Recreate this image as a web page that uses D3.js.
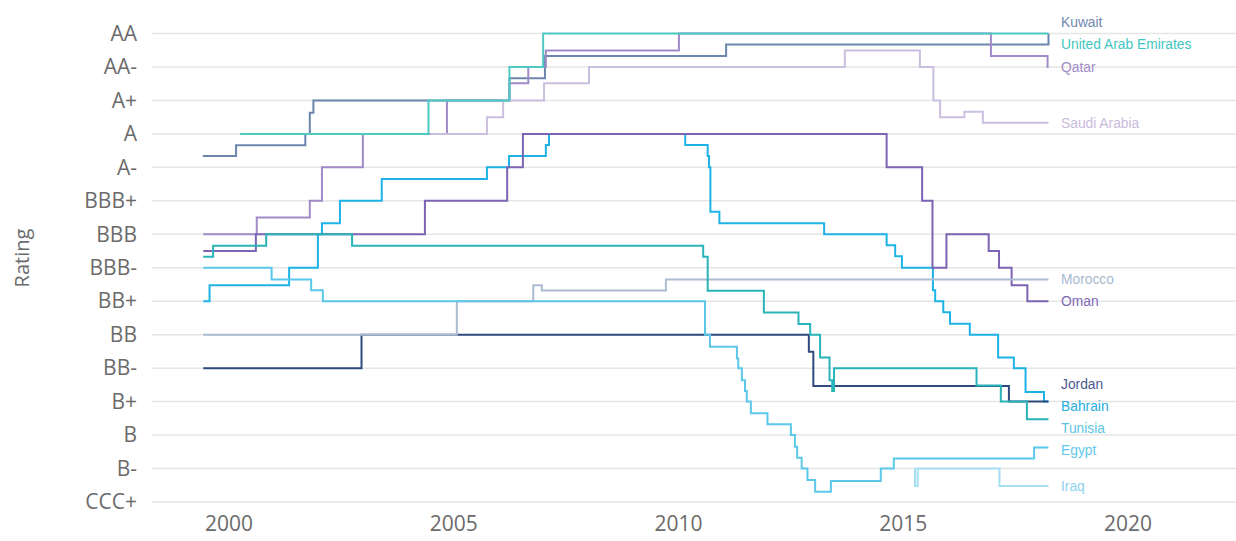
<!DOCTYPE html>
<html>
<head>
<meta charset="utf-8">
<script src="https://cdn.jsdelivr.net/npm/d3@7"></script>
<style>
  html, body { margin: 0; padding: 0; background: #ffffff; }
  svg { display: block; }
</style>
</head>
<body>
<div id="chart"></div>
<script>
// ---------- DATA ----------
// rating scale: score 0 = CCC+ ... 14 = AA
const ratingLabels = ["CCC+", "B-", "B", "B+", "BB-", "BB", "BB+", "BBB-", "BBB", "BBB+", "A-", "A", "A+", "AA-", "AA"];
const yearTicks = [2000, 2005, 2010, 2015, 2020];

// [decimal year, average rating score]
const kuwait = [[1999.43, 10.34], [2000.17, 10.66], [2001.71, 11], [2001.81, 11.63], [2001.89, 12], [2006.25, 12.66], [2007.04, 13.33], [2011.07, 13.67], [2018.24, 14]];
const uae = [[2000.26, 11], [2004.45, 12], [2006.25, 13], [2007.0, 14], [2018.24, 14]];
const qatar = [[1999.44, 8], [2000.63, 8.5], [2001.81, 9], [2002.08, 10], [2002.99, 11], [2004.86, 12], [2006.25, 12.51], [2006.67, 13], [2007.06, 13.49], [2010.02, 14], [2016.96, 13.33], [2018.22, 13], [2018.24, 13]];
const saudiArabia = [[2004.49, 11], [2005.75, 11.5], [2006.11, 12], [2007.02, 12.51], [2008.02, 13], [2013.71, 13.49], [2015.38, 13], [2015.68, 12], [2015.83, 11.5], [2016.37, 11.66], [2016.78, 11.33], [2018.24, 11.33]];
const morocco = [[1999.44, 5], [2005.08, 6], [2006.78, 6.48], [2006.97, 6.32], [2009.73, 6.65], [2018.24, 6.65]];
const oman = [[1999.44, 7.5], [2000.61, 8], [2004.37, 9], [2006.2, 10], [2006.55, 11], [2014.64, 10], [2015.43, 9], [2015.66, 7], [2015.97, 8], [2016.91, 7.5], [2017.14, 7], [2017.42, 6.48], [2017.77, 6], [2018.24, 6]];
const jordan = [[1999.44, 4], [2002.96, 5], [2012.91, 4.49], [2013.01, 3.47], [2017.36, 3], [2018.24, 3]];
const bahrain = [[1999.44, 6], [1999.58, 6.48], [2001.35, 7], [2001.99, 8], [2002.08, 8.33], [2002.48, 9], [2003.41, 9.65], [2005.75, 10], [2006.24, 10.34], [2007.06, 10.67], [2007.13, 11], [2010.16, 10.67], [2010.66, 10.34], [2010.69, 10], [2010.72, 8.67], [2010.92, 8.33], [2013.25, 8], [2014.64, 7.67], [2014.83, 7.34], [2014.98, 7], [2015.67, 6.33], [2015.72, 6], [2015.9, 5.67], [2016.05, 5.33], [2016.49, 5], [2017.12, 4.32], [2017.47, 4], [2017.73, 3.29], [2018.14, 3], [2018.24, 3]];
const tunisia = [[1999.44, 7.33], [1999.66, 7.66], [2000.84, 8], [2002.75, 7.66], [2010.56, 7.33], [2010.66, 6.31], [2011.91, 5.66], [2012.68, 5.32], [2012.94, 5], [2013.16, 4.32], [2013.37, 3.64], [2013.43, 3.32], [2013.47, 4], [2016.64, 3.48], [2017.18, 3], [2017.76, 2.47], [2018.24, 2.47]];
const egypt = [[1999.44, 7], [2000.96, 6.65], [2001.84, 6.33], [2002.1, 6], [2010.6, 5], [2010.71, 4.64], [2011.31, 4.29], [2011.34, 4], [2011.42, 3.64], [2011.49, 3.32], [2011.53, 3], [2011.62, 2.65], [2011.99, 2.32], [2012.51, 2], [2012.6, 1.65], [2012.65, 1.32], [2012.75, 1], [2012.88, 0.66], [2013.05, 0.31], [2013.4, 0.63], [2014.51, 1], [2014.8, 1.3], [2017.92, 1.63], [2018.24, 1.63]];
const iraq = [[2015.26, 1], [2015.27, 0.48], [2015.33, 1], [2017.15, 0.48], [2018.24, 0.48]];

const countryNames = ["Kuwait", "United Arab Emirates", "Qatar", "Saudi Arabia", "Morocco", "Oman", "Jordan", "Bahrain", "Tunisia", "Egypt", "Iraq"];
const countryData = [kuwait, uae, qatar, saudiArabia, morocco, oman, jordan, bahrain, tunisia, egypt, iraq];
const lineColors = ["#6b86ad", "#4ecac3", "#a08bc8", "#cbbfdf", "#abbbd1", "#7c63b3", "#2f4a7e", "#1db3e6", "#28b4b9", "#5bc8ea", "#a3def3"];
const labelColors = ["#7189b0", "#3fc7bf", "#a08bc8", "#c8bbdc", "#a8b8cf", "#8068b5", "#4c5a8f", "#28ace0", "#5cc5df", "#62c9ea", "#8fd2ee"];
// drawing order (bottom -> top), indices into countryNames
const drawOrder = [0, 2, 3, 1, 7, 5, 6, 4, 8, 9, 10];

// ---------- CHART ----------
const W = 1236, H = 541;
const svg = d3.select("#chart").append("svg").attr("width", W).attr("height", H);

const x = d3.scaleLinear().domain([1998.3, 2022.5]).range([152, 1240]);
const y = d3.scaleLinear().domain([0, 14]).range([502, 33.5]);

// gridlines
svg.append("g")
  .selectAll("line")
  .data(d3.range(ratingLabels.length))
  .join("line")
  .attr("x1", x.range()[0]).attr("x2", W)
  .attr("y1", d => y(d)).attr("y2", d => y(d))
  .attr("stroke", "#e6e6e6").attr("stroke-width", 1.5);

// y axis
const yAxis = d3.axisLeft(y)
  .tickValues(d3.range(ratingLabels.length))
  .tickFormat(d => ratingLabels[d])
  .tickSize(0).tickPadding(15);
const gy = svg.append("g").attr("transform", `translate(${x.range()[0]},0)`).call(yAxis);
gy.select(".domain").remove();
gy.selectAll("text")
  .attr("font-family", "'Open Sans', sans-serif")
  .attr("font-size", 21)
  .attr("fill", "#6b6b6b");

// x axis
const xAxis = d3.axisBottom(x)
  .tickValues(yearTicks)
  .tickFormat(d3.format("d"))
  .tickSize(0).tickPadding(0);
const gx = svg.append("g").attr("transform", `translate(0,516)`).call(xAxis);
gx.select(".domain").remove();
gx.selectAll("text")
  .attr("font-family", "'Open Sans', sans-serif")
  .attr("font-size", 21)
  .attr("fill", "#6b6b6b")
  .attr("dy", "0.72em");

// y axis title
svg.append("text")
  .attr("transform", "translate(29,258) rotate(-90)")
  .attr("text-anchor", "middle")
  .attr("font-family", "'Open Sans', sans-serif")
  .attr("font-size", 20)
  .attr("fill", "#6b6b6b")
  .text("Rating");

// lines
const line = d3.line()
  .x(d => x(d[0]))
  .y(d => y(d[1]))
  .curve(d3.curveStepAfter);

svg.append("g")
  .selectAll("path")
  .data(drawOrder)
  .join("path")
  .attr("d", i => line(countryData[i]))
  .attr("fill", "none")
  .attr("stroke", i => lineColors[i])
  .attr("stroke-width", 2);

// end labels with simple collision relaxation
const labels = countryNames.map((name, i) => {
  const last = countryData[i][countryData[i].length - 1];
  return { i, name, y: y(last[1]) };
});
labels.sort((a, b) => (a.y - b.y) || (a.i - b.i));
const gap = 22;
for (let iter = 0; iter < 300; iter++) {
  for (let k = 1; k < labels.length; k++) {
    const d = labels[k].y - labels[k - 1].y;
    if (d < gap) {
      const s = (gap - d) / 2;
      labels[k - 1].y -= s;
      labels[k].y += s;
    }
  }
}
svg.append("g")
  .selectAll("text")
  .data(labels)
  .join("text")
  .attr("x", 1061)
  .attr("y", d => d.y)
  .attr("dy", "0.35em")
  .attr("font-family", "'Liberation Sans', Arial, sans-serif")
  .attr("font-size", 13.8)
  .attr("fill", d => labelColors[d.i])
  .text(d => d.name);
</script>
</body>
</html>
